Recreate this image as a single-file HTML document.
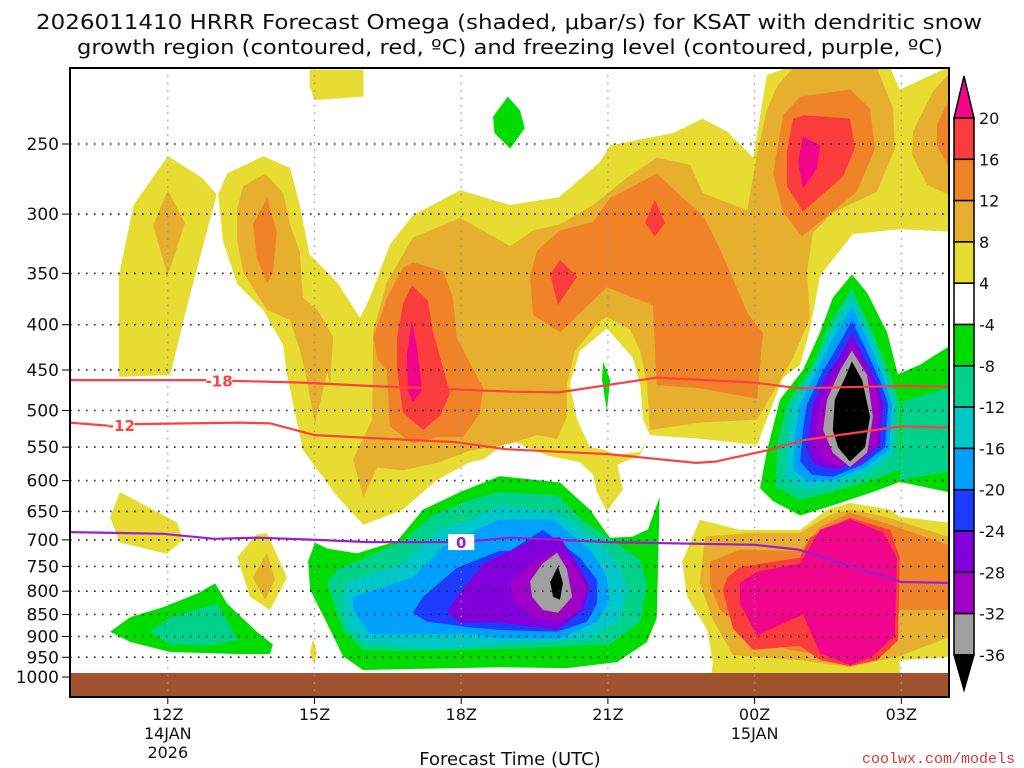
<!DOCTYPE html>
<html><head><meta charset="utf-8"><style>
html,body{margin:0;padding:0;background:#fff;}
svg{display:block;font-family:"DejaVu Sans","Liberation Sans",sans-serif;}
</style></head><body>
<svg id="chart" width="1024" height="768" viewBox="0 0 1024 768" xmlns="http://www.w3.org/2000/svg">
<text x="509" y="29" font-size="20" text-anchor="middle" textLength="946" lengthAdjust="spacingAndGlyphs" fill="#111">2026011410 HRRR Forecast Omega (shaded, μbar/s) for KSAT with dendritic snow</text>
<text x="510" y="54" font-size="20" text-anchor="middle" textLength="866" lengthAdjust="spacingAndGlyphs" fill="#111">growth region (contoured, red, ºC) and freezing level (contoured, purple, ºC)</text>
<defs><clipPath id="plotclip"><rect x="70" y="68" width="879" height="605"/></clipPath></defs>
<g id="fills" clip-path="url(#plotclip)"></g>
<rect x="70" y="673" width="879" height="24" fill="#a0522d"/>
<g id="grid"></g>
<g id="lines" clip-path="url(#plotclip)"></g>
<g id="axes"></g>
<g id="cbar"></g>
<text x="510" y="765" font-size="18" text-anchor="middle" fill="#111">Forecast Time (UTC)</text>
<text x="1015" y="763" font-size="15" text-anchor="end" fill="#e03535" font-family="Liberation Mono, monospace">coolwx.com/models</text>
</svg>
<script>
const pressureTicks = [250,300,350,400,450,500,550,600,650,700,750,800,850,900,950,1000];
const hourTicks = [12,15,18,21,24,27];
const hourLabels = ["12Z","15Z","18Z","21Z","00Z","03Z"];
const hourSub1 = ["14JAN","","","","15JAN",""];
const hourSub2 = ["2026","","","","",""];
const cbarLevels = ["20","16","12","8","4","-4","-8","-12","-16","-20","-24","-28","-32","-36"];
const cbarColors = ["#f0058c","#fa3c3c","#f08228","#e6af2d","#e6dc32","#ffffff","#00dc00","#00d28c","#00c8c8","#00a0ff","#1e3cff","#8200dc","#a000c8","#a0a0a0","#000000"];

const isoM18Hours = [10,12.7,14.75,16.1,19.0,20.0,22.0,24.0,24.9,27.0,28];
const isoM18Press = [462,462,465,469,476,477,459,465,472,469,470];
const isoM12Hours = [10,10.75,11.3,13.45,14.1,15,16.1,17.9,18.9,21.0,22.8,23.2,24.3,25.0,27.0,28];
const isoM12Press = [516,520,518,516,517,533,537,543,553,560,573,571,554,540,521,523];
const iso0Hours = [10,11.9,12.95,13.85,15.05,16.1,18,19,21,24,24.9,27,28];
const iso0Press = [686,689,698,696,700,704,704,696,704,709,718,781,783];

const Y="#e6dc32",G="#e6af2d",O="#f08228",R="#fa3c3c",M="#f0058c",W="#ffffff";
const GR="#00dc00",TE="#00d28c",CY="#00c8c8",LB="#00a0ff",BL="#1e3cff",PU="#8200dc",VI="#a000c8",GY="#a0a0a0",BK="#000000";
const yellowTop=[[14.9,206],[16.0,206],[16.0,221],[15.0,223],[14.9,215]];
const yellowA=[[11.0,458],[11.0,352],[11.3,293],[12.0,258],[12.7,273],[13.0,285],[12.8,314],[12.4,380],[12.05,456]];
const goldA=[[11.7,309],[12.0,282],[12.35,307],[12.0,352]];
const yellowBig=[[13.03,285],[13.21,270],[13.95,258],[14.5,266],[14.7,293],[14.9,333],[15.46,358],[15.93,393],[16.13,373],[16.54,325],[17.01,301],[17.98,282],[19.0,293],[20.0,287],[20.84,262],[21.04,251],[22.33,243],[22.94,234],[23.44,242],[23.97,259],[24.25,209],[24.66,205],[26.77,205],[26.97,217],[27.93,205],[28.2,205],[28.2,314],[27.95,314],[26.97,312],[26.01,316],[25.34,352],[25.13,405],[24.93,444],[24.58,459],[24.05,547],[22.88,538],[21.86,533],[21.66,561],[21.19,576],[21.31,614],[20.98,650],[20.78,619],[20.7,591],[20.43,572],[19.75,562],[19.0,540],[18.45,568],[18.18,572],[17.5,599],[16.81,647],[16.0,673],[15.46,625],[14.76,554],[14.44,456],[14.36,422],[13.95,385],[13.42,360],[13.13,322]];
const whiteHole=[[20.98,404],[21.51,436],[21.66,467],[21.72,512],[21.86,533],[21.66,557],[21.15,561],[20.94,554],[20.63,550],[20.37,512],[20.22,467],[20.43,428]];
const greenHole=[[20.9,440],[21.05,462],[20.98,500],[20.88,462]];
const greenTop=[[18.65,233],[18.95,221],[19.2,229],[19.3,240],[19.0,253],[18.68,243]];
const goldB=[[13.42,296],[13.54,279],[13.99,270],[14.36,284],[14.5,308],[14.7,331],[14.76,373],[15.05,384],[15.38,413],[15.32,468],[15.26,452],[15.01,518],[14.81,452],[14.7,427],[14.5,395],[14.03,385],[13.54,349],[13.42,321]];
const orangeB=[[14.03,288],[14.23,314],[14.15,350],[14.03,359],[13.82,336],[13.74,308]];
const goldBig=[[20.16,509],[20.16,467],[20.33,428],[20.84,396],[20.98,392],[21.45,405],[21.66,428],[21.8,467],[21.86,526],[22.88,516],[24.05,512],[24.38,477],[24.79,436],[25.13,393],[25.07,349],[25.19,315],[25.6,299],[26.5,283],[26.87,253],[26.83,228],[26.5,205],[24.79,205],[24.46,215],[24.25,229],[24.05,257],[23.85,297],[22.94,284],[22.68,264],[22.0,259],[21.39,273],[20.7,293],[20.02,308],[19.47,313],[19.0,326],[17.98,303],[17.01,319],[16.48,358],[16.2,407],[16.18,512],[15.79,568],[16.0,627],[16.28,580],[16.81,584],[17.5,573],[18.18,555],[19.0,545],[19.55,533],[19.96,538]];
const orangeMid=[[19.41,353],[19.55,330],[20.02,313],[20.7,306],[21.04,288],[22.0,270],[22.54,288],[22.94,301],[23.23,323],[23.5,349],[23.85,388],[24.17,409],[24.05,485],[22.88,472],[22.0,468],[21.92,380],[20.98,363],[20.02,408],[19.47,390]];
const redDiamond1=[[19.82,351],[20.02,338],[20.37,353],[19.98,380]];
const redDiamond2=[[21.76,307],[21.96,289],[22.17,307],[21.96,318]];
const orangeTR=[[24.58,232],[24.93,221],[25.95,217],[26.36,228],[26.46,253],[26.09,283],[25.34,306],[24.97,318],[24.58,298],[24.38,270]];
const redTR=[[24.79,234],[24.99,232],[25.95,234],[26.05,253],[25.81,272],[24.99,298],[24.66,279],[24.66,255]];
const magentaTR=[[24.99,245],[25.34,251],[25.28,266],[24.99,281],[24.89,262]];
const goldFR=[[27.24,242],[27.65,218],[27.95,209],[28.2,209],[28.2,285],[27.95,285],[27.53,278],[27.22,257]];
const orangeFR=[[27.73,238],[27.95,224],[28.2,224],[28.2,264],[27.95,264],[27.73,251]];
const orangeL=[[16.2,414],[16.48,373],[16.81,345],[17.01,340],[17.63,348],[17.83,373],[17.91,414],[18.38,464],[18.45,470],[18.38,504],[18.04,536],[17.5,536],[17.01,545],[16.54,521],[16.48,450],[16.3,439]];
const redL=[[16.69,414],[16.81,379],[16.99,361],[17.32,376],[17.42,407],[17.57,436],[17.77,478],[17.57,507],[17.22,526],[16.81,503],[16.69,450]];
const magentaL=[[16.89,433],[16.99,396],[17.1,425],[17.2,474],[17.01,489],[16.91,474]];
const greenLL=[[10.82,889],[11.23,856],[11.9,834],[12.6,805],[12.97,784],[13.21,826],[13.82,889],[14.15,919],[14.09,942],[13.42,942],[12.05,937],[11.23,913]];
const tealLL=[[11.64,889],[12.05,856],[13.01,826],[13.44,910],[12.72,922],[12.05,919]];
const yellowSL=[[10.82,660],[11.02,618],[12.19,669],[12.31,700],[11.98,726],[11.02,705]];
const yellow14=[[13.42,732],[13.82,690],[14.03,688],[14.44,772],[14.09,840],[13.68,812]];
const gold14=[[13.74,772],[14.03,724],[14.19,777],[13.99,818]];
const yellowTiny=[[14.97,905],[15.05,937],[14.99,970],[14.91,937]];
const greenM=[[15.01,705],[14.87,740],[14.91,797],[15.26,871],[15.58,947],[15.99,982],[18.79,975],[20.16,977],[21.19,962],[21.8,913],[22.0,858],[22.06,626],[21.82,681],[21.51,694],[21.04,696],[20.63,647],[20.02,603],[18.79,593],[17.98,618],[17.22,647],[16.69,702],[15.87,725],[15.26,716]];
const tealM=[[15.26,783],[15.46,757],[16.81,702],[17.42,656],[18.18,631],[18.79,618],[19.96,623],[20.49,666],[21.19,707],[21.66,737],[21.8,789],[21.66,866],[21.04,919],[19.47,927],[16.81,935],[16.0,932],[15.58,885]];
const cyanM=[[15.58,825],[15.66,783],[16.81,744],[17.5,685],[18.18,664],[18.79,640],[19.96,651],[20.78,700],[21.25,751],[21.39,797],[21.25,859],[20.63,905],[18.79,919],[17.5,929],[15.99,913],[15.66,871]];
const lbM=[[15.79,840],[15.79,812],[17.01,772],[17.63,713],[18.18,687],[18.79,664],[19.88,664],[20.7,724],[20.98,772],[21.04,818],[20.78,866],[20.02,905],[18.79,905],[18.18,894],[16.13,894]];
const blueM=[[17.01,846],[17.22,812],[17.91,753],[18.79,720],[19.0,720],[19.67,682],[20.43,733],[20.78,777],[20.78,826],[20.57,866],[19.96,889],[18.79,885],[18.18,879],[17.3,866]];
const purpleM=[[17.71,846],[17.91,812],[18.45,746],[19.0,720],[19.47,700],[20.02,695],[20.37,744],[20.63,791],[20.49,840],[19.96,885],[18.79,868],[17.98,868]];
const violetM=[[19.0,779],[19.47,744],[19.96,720],[20.37,755],[20.57,795],[20.43,840],[20.02,868],[19.47,856],[19.06,818]];
const grayM=[[19.41,779],[19.67,744],[19.96,724],[20.16,755],[20.27,812],[19.98,846],[19.67,840],[19.45,812]];
const blackM=[[19.82,781],[19.98,750],[20.08,783],[20.02,818],[19.88,812]];
const greenR=[[25.99,351],[26.3,368],[26.71,408],[26.93,455],[27.38,444],[27.95,424],[28.2,420],[28.2,620],[27.95,618],[26.97,602],[26.42,618],[25.6,640],[24.93,657],[24.38,633],[24.11,612],[24.25,556],[24.52,486],[24.99,450],[25.34,408],[25.6,373]];
const tealR=[[25.99,364],[26.42,408],[26.77,455],[26.97,492],[26.97,583],[26.42,599],[25.6,618],[24.93,631],[24.42,609],[24.48,540],[24.66,492],[25.19,444],[25.54,398]];
const tealFR=[[27.03,488],[27.95,472],[28.2,470],[28.2,588],[27.95,586],[26.97,599]];
const cyanR=[[25.99,373],[26.36,411],[26.67,455],[26.87,492],[26.83,561],[26.36,586],[25.6,609],[25.03,614],[24.62,596],[24.66,540],[24.79,492],[25.24,444],[25.6,403]];
const lbR=[[25.99,382],[26.32,416],[26.61,455],[26.81,492],[26.75,554],[26.26,580],[25.6,599],[25.09,602],[24.79,583],[24.83,534],[24.93,492],[25.3,448],[25.64,411]];
const blueR=[[25.99,396],[26.28,427],[26.56,462],[26.73,492],[26.67,550],[26.2,576],[25.6,594],[25.17,591],[24.93,571],[24.99,526],[25.07,492],[25.38,453],[25.71,422]];
const purpleR=[[25.99,410],[26.26,438],[26.52,468],[26.63,492],[26.56,547],[26.15,571],[25.64,583],[25.24,576],[25.09,557],[25.13,519],[25.19,492],[25.48,456],[25.79,430]];
const violetR=[[25.99,421],[26.26,448],[26.48,474],[26.56,494],[26.5,547],[26.11,576],[25.71,579],[25.38,568],[25.24,547],[25.28,512],[25.34,492],[25.58,462],[25.85,438]];
const grayR=[[25.99,428],[26.3,456],[26.42,508],[26.3,558],[25.95,579],[25.6,558],[25.4,526],[25.48,486],[25.75,450]];
const blackR=[[25.99,440],[26.2,462],[26.36,508],[26.26,550],[25.95,571],[25.71,551],[25.6,526],[25.64,486],[25.85,459]];
const yellowLR=[[22.88,664],[23.7,682],[24.93,682],[25.48,647],[25.95,636],[26.77,647],[26.97,659],[27.95,669],[28.2,669],[28.2,950],[27.95,950],[26.97,957],[26.97,1010],[23.09,1010],[23.15,965],[23.03,885],[22.62,812],[22.52,741]];
const goldLR=[[22.99,694],[23.97,687],[24.93,687],[25.54,656],[25.95,647],[26.67,659],[27.95,694],[28.2,694],[28.2,903],[27.95,903],[26.97,947],[25.95,975],[24.93,957],[23.56,945],[23.15,862],[22.88,783],[22.94,733]];
const orangeLR=[[23.09,741],[23.7,718],[24.93,721],[25.34,677],[25.95,652],[26.77,673],[27.95,709],[28.2,709],[28.2,840],[26.97,840],[26.77,932],[25.95,957],[24.72,932],[24.11,908],[23.29,840],[23.09,787]];
const redLR=[[23.44,772],[23.7,751],[24.93,733],[25.13,696],[25.95,661],[26.77,682],[26.97,733],[26.93,910],[26.5,957],[25.95,972],[25.34,957],[24.93,922],[23.97,932],[23.56,882],[23.35,797]];
const magentaLR=[[23.7,783],[24.05,761],[24.93,744],[25.34,682],[25.95,663],[26.63,687],[26.91,733],[26.87,898],[26.42,947],[25.95,970],[25.34,940],[24.99,850],[24.05,897],[23.7,826]];

const layers=[
 ["yellow-top",yellowTop,Y],["yellow-left-column",yellowA,Y],["gold-left-column",goldA,G],
 ["yellow-main",yellowBig,Y],["white-gap",whiteHole,W],["green-gap",greenHole,GR],["green-top",greenTop,GR],
 ["gold-main",goldBig,G],["gold-column-b",goldB,G],["orange-column-b",orangeB,O],
 ["orange-mid",orangeMid,O],["red-mid-1",redDiamond1,R],["red-mid-2",redDiamond2,R],
 ["orange-top-right",orangeTR,O],["red-top-right",redTR,R],["magenta-top-right",magentaTR,M],
 ["gold-far-right",goldFR,G],["orange-far-right",orangeFR,O],
 ["orange-left",orangeL,O],["red-left",redL,R],["magenta-left",magentaL,M],
 ["green-lower-left",greenLL,GR],["teal-lower-left",tealLL,TE],["yellow-small-left",yellowSL,Y],
 ["yellow-14z",yellow14,Y],["gold-14z",gold14,G],["yellow-tiny",yellowTiny,Y],
 ["green-mid",greenM,GR],["teal-mid",tealM,TE],["cyan-mid",cyanM,CY],["lightblue-mid",lbM,LB],["blue-mid",blueM,BL],["purple-mid",purpleM,PU],["violet-mid",violetM,VI],["gray-mid",grayM,GY],["black-mid",blackM,BK],
 ["green-right",greenR,GR],["teal-right",tealR,TE],["teal-far-right",tealFR,TE],["cyan-right",cyanR,CY],["lightblue-right",lbR,LB],["blue-right",blueR,BL],["purple-right",purpleR,PU],["violet-right",violetR,VI],["gray-right",grayR,GY],["black-right",blackR,BK],
 ["yellow-lower-right",yellowLR,Y],["gold-lower-right",goldLR,G],["orange-lower-right",orangeLR,O],["red-lower-right",redLR,R],["magenta-lower-right",magentaLR,M]
];

const NS="http://www.w3.org/2000/svg";
const X0=70,PX=48.9,H0=10;
function xScale(h){return X0+(h-H0)*PX;}
function yScale(p){return 144+Math.log(p/250)/Math.log(4)*533;}
function mk(tag,attrs,parent){const e=document.createElementNS(NS,tag);for(const k in attrs)e.setAttribute(k,attrs[k]);parent.appendChild(e);return e;}

const fills=document.getElementById('fills');
layers.forEach(l=>{
  const d=l[1].map((pt,i)=>(i?'L':'M')+xScale(pt[0]).toFixed(1)+' '+yScale(pt[1]).toFixed(1)).join(' ')+'Z';
  const e=mk('path',{d:d,fill:l[2]},fills);
  
  
});

const grid=document.getElementById('grid');
pressureTicks.forEach(p=>{
  if(p===1000)return;
  const y=yScale(p).toFixed(1);
  const e=mk('line',{x1:70,x2:949,y1:y,y2:y,stroke:'#222','stroke-width':1.6,'stroke-dasharray':'1.6 6.4'},grid);
  
  
});
hourTicks.forEach(h=>{
  const x=xScale(h).toFixed(1);
  const e=mk('line',{x1:x,x2:x,y1:68,y2:697,stroke:'#999','stroke-width':1.4,'stroke-dasharray':'1.4 6'},grid);
  
  
});

const lines=document.getElementById('lines');
function drawLine(hs,ps,color,name){
  const d=hs.map((h,i)=>(i?'L':'M')+xScale(h).toFixed(1)+' '+yScale(ps[i]).toFixed(1)).join(' ');
  const e=mk('path',{d:d,fill:'none',stroke:color,'stroke-width':2.2,'stroke-linejoin':'round'},lines);
  
  
}
drawLine(isoM18Hours,isoM18Press,'#ff4040','isotherm-minus18');
drawLine(isoM12Hours,isoM12Press,'#ff4040','isotherm-minus12');
drawLine(iso0Hours,iso0Press,'#9b1fd0','freezing-level-line');
function lineLabel(txt,h,hs,ps,color,name){
  let p=ps[0];for(let i=1;i<hs.length;i++){if(h<=hs[i]){const t=(h-hs[i-1])/(hs[i]-hs[i-1]);p=ps[i-1]+t*(ps[i]-ps[i-1]);break;}}
  const x=xScale(h),y=yScale(p);
  const bg=mk('rect',{x:x-13,y:y-8,width:26,height:16,fill:'#fff'},lines);
  
  
  const t=mk('text',{x:x,y:y+6,'font-size':15,'font-weight':'bold','text-anchor':'middle',fill:color},lines);
  t.textContent=txt;
  
  
}
lineLabel('-18',13.05,isoM18Hours,isoM18Press,'#ff4040','label-minus18');
lineLabel('-12',11.05,isoM12Hours,isoM12Press,'#ff4040','label-minus12');
lineLabel('0',18.0,iso0Hours,iso0Press,'#9b1fd0','label-zero');

const axes=document.getElementById('axes');
const frame=mk('rect',{x:70,y:68,width:879,height:629,fill:'none',stroke:'#000','stroke-width':2},axes);


pressureTicks.forEach(p=>{
  const y=yScale(p);
  const tk=mk('line',{x1:62,x2:70,y1:y,y2:y,stroke:'#000','stroke-width':1},axes);
  
  
  const t=mk('text',{x:59,y:y+6,'font-size':17,'text-anchor':'end',fill:'#111'},axes);
  t.textContent=p;
  
  
});
hourTicks.forEach((h,i)=>{
  const x=xScale(h);
  const tk=mk('line',{x1:x,x2:x,y1:697,y2:704,stroke:'#000','stroke-width':1},axes);
  
  
  [hourLabels[i],hourSub1[i],hourSub2[i]].forEach((s,j)=>{
    if(!s)return;
    const t=mk('text',{x:x,y:720+j*19,'font-size':16,'text-anchor':'middle',fill:'#111'},axes);
    t.textContent=s;
    
    
  });
});

const cb=document.getElementById('cbar');
const cbTop=118,cbStep=41.3,cbX=954,cbW=20;
const tri=mk('path',{d:`M${cbX} ${cbTop} L${cbX+cbW/2} 76 L${cbX+cbW} ${cbTop} Z`,fill:cbarColors[0],stroke:'#000','stroke-width':1.5},cb);


for(let i=1;i<cbarColors.length-1;i++){
  const r=mk('rect',{x:cbX,y:cbTop+(i-1)*cbStep,width:cbW,height:cbStep,fill:cbarColors[i],stroke:'#000','stroke-width':1.5},cb);
  
  
}
const yb=cbTop+(cbarColors.length-2)*cbStep;
const tri2=mk('path',{d:`M${cbX} ${yb} L${cbX+cbW/2} 690 L${cbX+cbW} ${yb} Z`,fill:'#000',stroke:'#000','stroke-width':1.5},cb);


cbarLevels.forEach((s,i)=>{
  const t=mk('text',{x:979,y:cbTop+i*cbStep+6,'font-size':16,fill:'#111'},cb);
  t.textContent=s;
  
  
});
</script>
</body></html>
